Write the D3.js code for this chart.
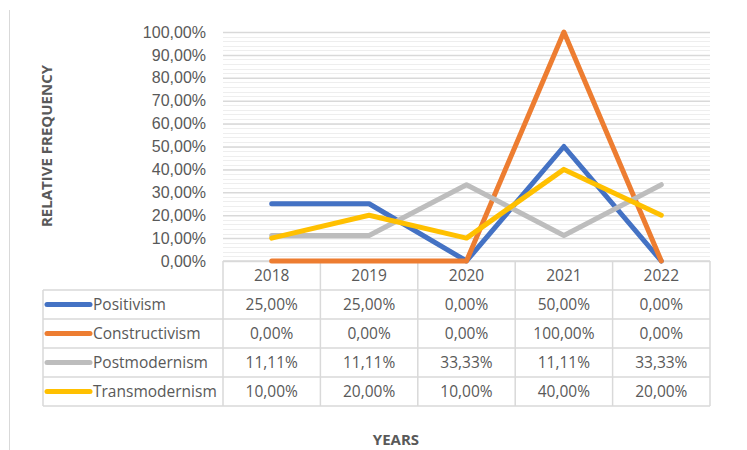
<!DOCTYPE html>
<html>
<head>
<meta charset="utf-8">
<script src="https://cdn.jsdelivr.net/npm/d3@7"></script>
<style>
  body { margin: 0; background: #fff; }
  svg { font-family: "Open Sans", sans-serif; }
  .tick text { fill: #595959; font-size: 16px; }
</style>
</head>
<body>
<div id="chart"></div>
<script>
// data
var years = ["2018", "2019", "2020", "2021", "2022"];
var seriesNames = ["Positivism", "Constructivism", "Postmodernism", "Transmodernism"];
var seriesColors = ["#4472C4", "#ED7D31", "#BDBDBD", "#FFC000"];
var positivism = [0.25, 0.25, 0, 0.5, 0];
var constructivism = [0, 0, 0, 1, 0];
var postmodernism = [0.1111, 0.1111, 0.3333, 0.1111, 0.3333];
var transmodernism = [0.10, 0.20, 0.10, 0.40, 0.20];
var yTicks = [0, 0.1, 0.2, 0.3, 0.4, 0.5, 0.6, 0.7, 0.8, 0.9, 1];

var allSeries = [positivism, constructivism, postmodernism, transmodernism];

var svgWidth = 747;
var svgHeight = 450;

var plot = { left: 223, right: 710, top: 32, bottom: 261 };
var tableLeft = 43;
var rowH = 29;
var tableFont = "15.5px";

var locale = d3.formatLocale({ decimal: ",", thousands: ".", grouping: [3], currency: ["", "€"] });
var pct = locale.format(".2%");

var svg = d3.select("#chart")
  .append("svg")
  .attr("width", svgWidth)
  .attr("height", svgHeight);

// outer chart border (left edge visible)
svg.append("line")
  .attr("x1", 9.5).attr("x2", 9.5)
  .attr("y1", 10).attr("y2", svgHeight)
  .attr("stroke", "#d9d9d9");

var x = d3.scaleBand()
  .domain(years)
  .range([plot.left, plot.right])
  .padding(0);

var y = d3.scaleLinear()
  .domain([0, 1])
  .range([plot.bottom, plot.top]);

// minor gridlines
svg.append("g")
  .selectAll("line")
  .data(d3.range(0.02, 1, 0.02))
  .enter()
  .append("line")
  .attr("x1", plot.left).attr("x2", plot.right)
  .attr("y1", d => Math.round(y(d)) + 0.5)
  .attr("y2", d => Math.round(y(d)) + 0.5)
  .attr("stroke", "#eeeeee");

// major gridlines
svg.append("g")
  .attr("transform", `translate(${plot.left}, 0)`)
  .call(d3.axisLeft(y).tickValues(yTicks).tickSize(-(plot.right - plot.left)).tickFormat(""))
  .call(g => g.select(".domain").remove())
  .call(g => g.selectAll("line").attr("stroke", "#d9d9d9").attr("stroke-width", 1.5));

// y axis labels
svg.append("g")
  .attr("transform", `translate(${plot.left - 17}, 0)`)
  .call(d3.axisLeft(y).tickValues(yTicks).tickSize(0).tickPadding(0).tickFormat(locale.format(".2%")))
  .call(g => g.select(".domain").remove());

// y axis title
svg.append("text")
  .attr("transform", "translate(52, 146) rotate(-90)")
  .attr("text-anchor", "middle")
  .attr("font-size", "15px")
  .attr("font-weight", "bold")
  .attr("fill", "#595959")
  .text("RELATIVE FREQUENCY");

// data table
var table = svg.append("g");
var tableTop = plot.bottom;
var tableBottom = tableTop + rowH * (seriesNames.length + 1);

// horizontal lines
table.append("line")
  .attr("x1", plot.left).attr("x2", plot.right)
  .attr("y1", tableTop).attr("y2", tableTop)
  .attr("stroke", "#d9d9d9").attr("stroke-width", 1.5);
d3.range(1, seriesNames.length + 2).forEach(function(i) {
  table.append("line")
    .attr("x1", tableLeft).attr("x2", plot.right)
    .attr("y1", tableTop + rowH * i).attr("y2", tableTop + rowH * i)
    .attr("stroke", "#d9d9d9").attr("stroke-width", 1.5);
});

// vertical lines
var bounds = years.map(d => x(d)).concat([plot.right]);
bounds.forEach(function(b) {
  table.append("line")
    .attr("x1", b).attr("x2", b)
    .attr("y1", tableTop).attr("y2", tableBottom)
    .attr("stroke", "#d9d9d9").attr("stroke-width", 1.5);
});
table.append("line")
  .attr("x1", tableLeft).attr("x2", tableLeft)
  .attr("y1", tableTop + rowH).attr("y2", tableBottom)
  .attr("stroke", "#d9d9d9").attr("stroke-width", 1.5);

// header row: years
table.selectAll(".year")
  .data(years)
  .enter()
  .append("text")
  .attr("class", "year")
  .attr("x", d => x(d) + x.bandwidth() / 2)
  .attr("y", tableTop + rowH / 2)
  .attr("dy", "0.35em")
  .attr("text-anchor", "middle")
  .attr("font-size", tableFont)
  .attr("fill", "#595959")
  .text(d => d);

// series rows
seriesNames.forEach(function(name, i) {
  var rowY = tableTop + rowH * (i + 1) + rowH / 2;
  table.append("line")
    .attr("x1", 47).attr("x2", 90)
    .attr("y1", rowY).attr("y2", rowY)
    .attr("stroke", seriesColors[i])
    .attr("stroke-width", 5)
    .attr("stroke-linecap", "round");
  table.append("text")
    .attr("x", 93)
    .attr("y", rowY)
    .attr("dy", "0.35em")
    .attr("font-size", tableFont)
    .attr("fill", "#595959")
    .text(name);
  table.selectAll(".v" + i)
    .data(allSeries[i])
    .enter()
    .append("text")
    .attr("x", (d, j) => x(years[j]) + x.bandwidth() / 2)
    .attr("y", rowY)
    .attr("dy", "0.35em")
    .attr("text-anchor", "middle")
    .attr("font-size", tableFont)
    .attr("fill", "#595959")
    .text(d => pct(d));
});

// lines
var line = d3.line()
  .x((d, j) => x(years[j]) + x.bandwidth() / 2)
  .y(d => y(d));

svg.append("g")
  .selectAll("path")
  .data(allSeries)
  .enter()
  .append("path")
  .attr("d", line)
  .attr("fill", "none")
  .attr("stroke", (d, i) => seriesColors[i])
  .attr("stroke-width", 5)
  .attr("stroke-linecap", "round")
  .attr("stroke-linejoin", "round");

// x axis title
svg.append("text")
  .attr("x", 396)
  .attr("y", 445)
  .attr("text-anchor", "middle")
  .attr("font-size", "15px")
  .attr("font-weight", "bold")
  .attr("fill", "#595959")
  .text("YEARS");
</script>
</body>
</html>
